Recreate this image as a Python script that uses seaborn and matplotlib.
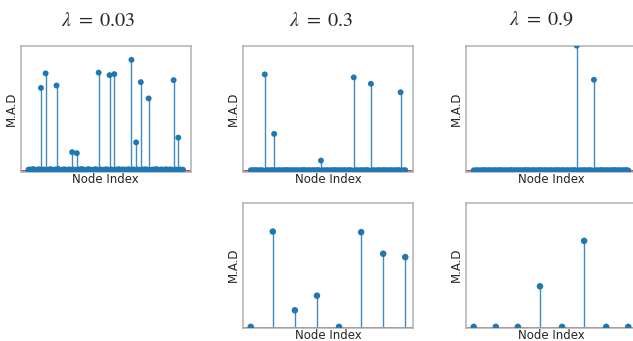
import matplotlib
matplotlib.use("Agg")
import matplotlib.pyplot as plt
import pandas as pd
import seaborn as sns

sns.set_style("white")
plt.rcParams["font.family"] = ["DejaVu Sans"]
plt.rcParams["mathtext.fontset"] = "stix"

# M.A.D per node, lambda = 0.03 (100 nodes)
mad_003 = [
    0.010, 0.012, 0.008, 0.015, 0.010, 0.009, 0.011, 0.013, 0.663, 0.010,
    0.012, 0.779, 0.009, 0.010, 0.014, 0.011, 0.008, 0.012, 0.682, 0.016,
    0.010, 0.009, 0.011, 0.013, 0.010, 0.008, 0.012, 0.010, 0.150, 0.011,
    0.009, 0.142, 0.012, 0.010, 0.015, 0.011, 0.009, 0.010, 0.013, 0.012,
    0.010, 0.008, 0.011, 0.014, 0.010, 0.785, 0.012, 0.009, 0.010, 0.011,
    0.013, 0.010, 0.765, 0.012, 0.009, 0.773, 0.011, 0.010, 0.014, 0.008,
    0.012, 0.010, 0.011, 0.009, 0.013, 0.010, 0.887, 0.012, 0.010, 0.228,
    0.011, 0.009, 0.709, 0.012, 0.010, 0.013, 0.011, 0.579, 0.010, 0.009,
    0.012, 0.010, 0.014, 0.011, 0.008, 0.012, 0.010, 0.009, 0.013, 0.011,
    0.010, 0.012, 0.009, 0.725, 0.011, 0.010, 0.266, 0.012, 0.009, 0.010,
]

# lambda = 0.3 (100 nodes)
mad_03 = [
    0.005, 0.006, 0.004, 0.007, 0.005, 0.004, 0.006, 0.005, 0.004, 0.771,
    0.005, 0.006, 0.004, 0.005, 0.007, 0.296, 0.005, 0.004, 0.006, 0.005,
    0.004, 0.006, 0.005, 0.007, 0.005, 0.004, 0.006, 0.005, 0.004, 0.006,
    0.005, 0.004, 0.006, 0.005, 0.007, 0.005, 0.004, 0.006, 0.005, 0.004,
    0.006, 0.005, 0.004, 0.007, 0.005, 0.083, 0.006, 0.004, 0.005, 0.006,
    0.005, 0.004, 0.006, 0.005, 0.007, 0.004, 0.005, 0.006, 0.004, 0.005,
    0.006, 0.005, 0.004, 0.007, 0.005, 0.004, 0.747, 0.005, 0.006, 0.004,
    0.005, 0.006, 0.004, 0.005, 0.007, 0.005, 0.004, 0.696, 0.005, 0.006,
    0.004, 0.005, 0.006, 0.005, 0.004, 0.007, 0.005, 0.006, 0.004, 0.005,
    0.006, 0.005, 0.004, 0.006, 0.005, 0.007, 0.628, 0.005, 0.004, 0.006,
]

# lambda = 0.9 (100 nodes)
mad_09 = [
    0.005, 0.004, 0.006, 0.005, 0.004, 0.006, 0.005, 0.007, 0.004, 0.005,
    0.006, 0.005, 0.004, 0.006, 0.005, 0.004, 0.007, 0.005, 0.006, 0.004,
    0.005, 0.006, 0.004, 0.005, 0.007, 0.005, 0.004, 0.006, 0.005, 0.004,
    0.006, 0.005, 0.004, 0.007, 0.005, 0.006, 0.004, 0.005, 0.006, 0.005,
    0.004, 0.006, 0.005, 0.007, 0.004, 0.005, 0.006, 0.005, 0.004, 0.006,
    0.005, 0.004, 0.006, 0.005, 0.007, 0.004, 0.005, 0.006, 0.005, 0.004,
    0.006, 0.005, 0.004, 0.006, 0.005, 0.007, 1.000, 0.005, 0.004, 0.006,
    0.005, 0.006, 0.004, 0.005, 0.006, 0.005, 0.004, 0.728, 0.005, 0.006,
    0.004, 0.005, 0.007, 0.005, 0.004, 0.006, 0.005, 0.004, 0.006, 0.005,
    0.007, 0.005, 0.004, 0.006, 0.005, 0.004, 0.006, 0.005, 0.007, 0.004,
]

# small graphs (8 nodes)
mad_03_small = [0.005, 0.769, 0.138, 0.255, 0.005, 0.764, 0.591, 0.564]
mad_09_small = [0.005, 0.005, 0.005, 0.330, 0.005, 0.694, 0.005, 0.005]

titles = [r"$\lambda\ =\ 0.03$", r"$\lambda\ =\ 0.3$", r"$\lambda\ =\ 0.9$"]

W, H = 633, 341
fig = plt.figure(figsize=(W / 100, H / 100), dpi=100)


def make_ax(left, top, right, bottom):
    return fig.add_axes([left / W, 1 - bottom / H, (right - left) / W, (bottom - top) / H])


def stem(ax, values, ylim, msize):
    df = pd.DataFrame({"node": range(len(values)), "mad": values})
    ax.axhline(0, color="#a8262a", lw=1.2, zorder=1)
    ax.vlines(df["node"], 0, df["mad"], color="#1f77b4", lw=1.0, alpha=0.85, zorder=2)
    sns.scatterplot(data=df, x="node", y="mad", ax=ax, s=msize, color="#1f77b4",
                    edgecolor="none", linewidth=0, zorder=3)
    ax.margins(x=0.05)
    ax.set_ylim(*ylim)
    ax.set_xticks([])
    ax.set_yticks([])
    ax.set_xlabel("Node Index", fontsize=8.5, labelpad=1)
    ax.set_ylabel("M.A.D", fontsize=8.5, labelpad=2)
    for sp in ax.spines.values():
        sp.set_color("#b0b0b0")
        sp.set_linewidth(1.1)


cols = [20.7, 243, 466]
top_data = [mad_003, mad_03, mad_09]
for left, vals in zip(cols, top_data):
    ax = make_ax(left, 45.7, left + 170, 171.7)
    stem(ax, vals, (-0.006, 1.0), 18)

ax = make_ax(243, 202.7, 413, 327.5)
stem(ax, mad_03_small, (0, 1.0), 22)
ax = make_ax(466, 202.7, 636, 327.5)
stem(ax, mad_09_small, (0, 1.0), 22)

for x, t in zip([98.3, 321.7, 541.3], titles):
    fig.text(x / W, 1 - 20 / H, t, ha="center", va="center", fontsize=14.5)

fig.savefig("out.png", dpi=100)
